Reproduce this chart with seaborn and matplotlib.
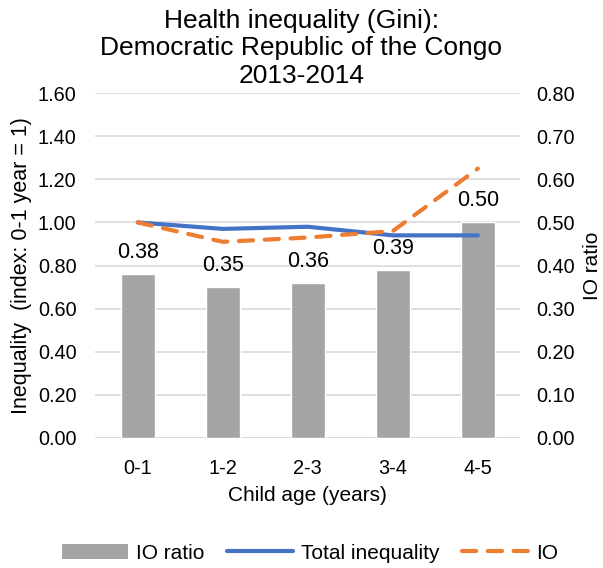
import matplotlib
matplotlib.use("Agg")
import matplotlib.pyplot as plt
import seaborn as sns
import pandas as pd
from matplotlib.patches import Patch
from matplotlib.lines import Line2D

ages = ["0-1", "1-2", "2-3", "3-4", "4-5"]
io_ratio = [0.38, 0.35, 0.36, 0.39, 0.50]
total_inequality = [1.00, 0.97, 0.98, 0.94, 0.94]
io_index = [1.00, 0.91, 0.93, 0.96, 1.25]

left_ticks = [0.0, 0.2, 0.4, 0.6, 0.8, 1.0, 1.2, 1.4, 1.6]
right_ticks = [0.0, 0.1, 0.2, 0.3, 0.4, 0.5, 0.6, 0.7, 0.8]

sns.set_theme(style="white")
plt.rcParams['font.family'] = ['Liberation Sans', 'DejaVu Sans']
plt.rcParams['text.color'] = '#000000'

df = pd.DataFrame({"age": ages, "io_ratio": io_ratio,
                   "total": total_inequality, "io": io_index})

fig = plt.figure(figsize=(6.03, 5.68), dpi=100)
ax = fig.add_axes([0.158, 0.229, 0.705, 0.607])
ax2 = ax.twinx()

BAR = "#A5A5A5"
BLUE = "#4472C4"
ORANGE = "#ED7D31"
LW = 3.0
DASH = (0, (3.4, 2.8))

sns.barplot(data=df, x="age", y="io_ratio", color=BAR, width=0.4,
            saturation=1, ax=ax2, zorder=2)
ax2.bar_label(ax2.containers[0], labels=[f"{v:.2f}" for v in io_ratio],
              padding=8, fontsize=15.5, color="#000000")

sns.lineplot(data=df, x="age", y="total", color=BLUE, linewidth=LW,
             ax=ax, zorder=3)
sns.lineplot(data=df, x="age", y="io", color=ORANGE, linewidth=LW,
             ax=ax, zorder=4, linestyle=DASH)
for l in ax.lines:
    l.set_solid_capstyle("round")
    l.set_dash_capstyle("round")

ax.set_zorder(ax2.get_zorder() + 1)
ax.patch.set_visible(False)

ax.set_ylim(0, 1.6)
ax2.set_ylim(0, 0.8)
ax.set_xlim(-0.5, 4.5)
ax.set_yticks(left_ticks)
ax.set_yticklabels([f"{t:.2f}" for t in left_ticks])
ax2.set_yticks(right_ticks)
ax2.set_yticklabels([f"{t:.2f}" for t in right_ticks])

ax2.grid(axis="y", color="#D9D9D9", linewidth=1.2, zorder=0)
ax2.set_axisbelow(True)
ax.grid(False)

for a in (ax, ax2):
    for s in ("top", "left", "right", "bottom"):
        a.spines[s].set_visible(False)
    a.tick_params(axis="both", length=0, labelsize=14.3, colors="#000000")
ax.tick_params(axis="x", pad=15)
ax.tick_params(axis="y", pad=13.5)
ax2.tick_params(axis="y", pad=11.5)
ax2.axhline(0, color="#D9D9D9", linewidth=1.2, zorder=1)

ax.set_xlabel("Child age (years)", fontsize=15, color="#000000", labelpad=6)
ax.set_ylabel("Inequality  (index: 0-1 year = 1)", fontsize=15.5, color="#000000", labelpad=4)
ax2.set_ylabel("IO ratio", fontsize=15, color="#000000", labelpad=6)
ax2.set_xlabel("")

fig.suptitle("Health inequality (Gini):\nDemocratic Republic of the Congo\n2013-2014",
             fontsize=19, x=0.5, y=0.985, va="top", linespacing=1.2,
             color="#000000")

handles = [Patch(facecolor=BAR, edgecolor="none"),
           Line2D([0], [0], color=BLUE, linewidth=LW, solid_capstyle="round"),
           Line2D([0], [0], color=ORANGE, linewidth=LW, linestyle=DASH,
                  dash_capstyle="round")]
fig.legend(handles, ["IO ratio", "Total inequality", "IO"], loc="center",
           bbox_to_anchor=(0.514, 0.026), ncol=3, frameon=False, fontsize=15,
           handlelength=3.2, handletextpad=0.38, columnspacing=1.05)

fig.savefig("out.png", dpi=100)
